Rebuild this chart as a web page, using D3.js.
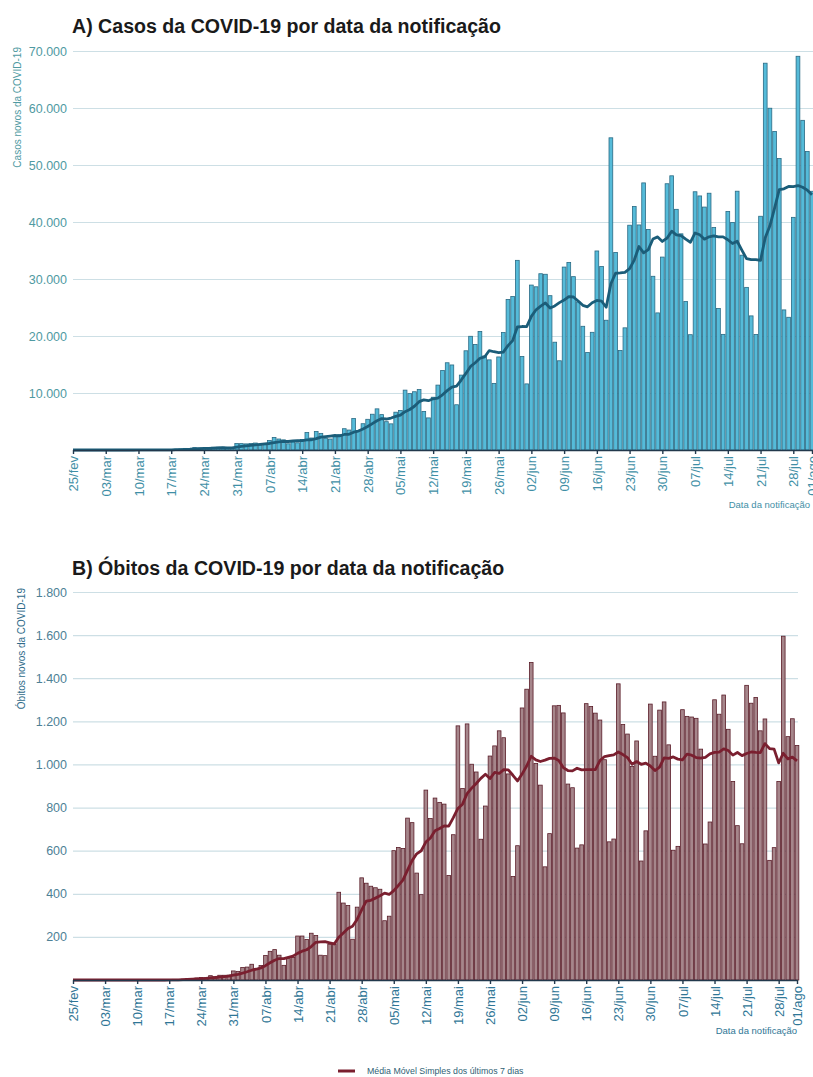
<!DOCTYPE html>
<html lang="pt-BR">
<head>
<meta charset="UTF-8">
<script src="https://d3js.org/d3.v7.min.js"></script>
<title>COVID-19 por data da notificação</title>
<style>
    body { margin: 0; background: #fff; }
    text { font-family: "Liberation Sans", Arial, sans-serif; }
</style>
</head>
<body>
<svg class="painel"></svg>
<script>
// primeiro dia da série (um valor por dia até 01/ago)
var inicio = "2020-02-25";

// casos novos por data da notificação (25/fev .. 01/ago)
var casos = [
    0, 1, 0, 0, 1,
    0, 0, 0, 1, 5, 5, 6, 6, 0, 9, 18, 25, 21, 23, 79, 34, 57, 137, 193, 283, 224, 418, 345, 310, 232, 482, 502, 487, 352, 323, 1138,
    1119, 1074, 1146, 1222, 852, 926, 1661, 2210, 1930, 1781, 1089, 1442, 1261, 1832, 3058, 2105, 3257, 2917, 2055, 1927, 2498, 2678, 3735, 3503, 5514, 3379, 4613, 5385, 6276, 7218,
    6209, 4970, 4588, 6633, 6935, 10503, 9888, 10222, 10611, 6760, 5632, 9258, 11385, 13944, 15305, 14919, 7938, 13140, 17408, 19951, 18508, 20803, 16508, 15813, 11687, 16324, 20599, 26417, 26928, 33274, 16409,
    11598, 28936, 28633, 30925, 30830, 27075, 18912, 15654, 32091, 32913, 30412, 25982, 21704, 17110, 20647, 34918, 32188, 22765, 54771, 34666, 17459, 21432, 39436, 42725, 39483, 46860, 38693, 30476, 24052, 33846,
    46712, 48105, 42223, 37923, 26051, 20229, 45305, 44571, 42619, 45048, 39023, 24831, 20286, 41857, 39924, 45403, 34177, 28532, 23529, 20257, 41008, 67860, 59961, 55891, 51147, 24578, 23284, 40816, 69074, 57837, 52383,
    45392
];

// óbitos novos por data da notificação (25/fev .. 01/ago)
var obitos = [
    0, 0, 0, 0, 0,
    0, 0, 0, 0, 0, 0, 0, 0, 0, 0, 0, 0, 0, 0, 0, 0, 1, 3, 3, 4, 7, 7, 9, 12, 11, 20, 15, 22, 22, 23, 42,
    40, 58, 60, 73, 54, 67, 114, 133, 141, 115, 68, 99, 105, 204, 204, 188, 217, 206, 115, 113, 166, 165, 407, 357, 346, 189, 338, 474, 449, 435,
    428, 421, 275, 296, 600, 615, 610, 751, 730, 496, 396, 881, 749, 844, 824, 816, 485, 674, 1179, 888, 1188, 1001, 965, 653, 807, 1039, 1086, 1156, 1124, 956, 480,
    623, 1262, 1349, 1473, 1005, 904, 525, 679, 1272, 1274, 1239, 909, 892, 612, 627, 1282, 1269, 1238, 1206, 1022, 641, 654, 1374, 1185, 1141, 990, 1109, 552, 692, 1280,
    1038, 1252, 1290, 1091, 602, 620, 1254, 1223, 1220, 1214, 1071, 631, 733, 1300, 1233, 1322, 1163, 921, 716, 632, 1367, 1284, 1311, 1156, 1211, 555, 614, 921, 1595, 1129, 1212,
    1088
];

var rotulosX = ["25/fev", "03/mar", "10/mar", "17/mar", "24/mar", "31/mar", "07/abr", "14/abr",
    "21/abr", "28/abr", "05/mai", "12/mai", "19/mai", "26/mai", "02/jun", "09/jun", "16/jun",
    "23/jun", "30/jun", "07/jul", "14/jul", "21/jul", "28/jul", "01/ago"];
var ticksCasos = [10000, 20000, 30000, 40000, 50000, 60000, 70000];
var ticksObitos = [200, 400, 600, 800, 1000, 1200, 1400, 1600, 1800];

var ptBR = d3.formatLocale({ decimal: ",", thousands: ".", grouping: [3], currency: ["R$", ""] });
var fmt = ptBR.format(",");
var meses = { fev: 1, mar: 2, abr: 3, mai: 4, jun: 5, jul: 6, ago: 7 };

function dataDe(rotulo) {
    var p = rotulo.split("/");
    return new Date(2020, meses[p[1]], +p[0]);
}

var dia0 = d3.timeParse("%Y-%m-%d")(inicio);

// série diária + média móvel simples dos últimos 7 dias
function serieDe(valores) {
    return valores.map(function(v, i) {
        var janela = valores.slice(Math.max(0, i - 6), i + 1);
        return { data: d3.timeDay.offset(dia0, i), valor: v, media: d3.mean(janela) };
    });
}

var svg = d3.select(".painel")
    .attr("width", 813)
    .attr("height", 1077);

function grafico(cfg) {
    var serie = serieDe(cfg.valores);
    var x = d3.scaleTime()
        .domain([dia0, dataDe(rotulosX[rotulosX.length - 1])])
        .range([cfg.x0, cfg.x1]);
    var y = d3.scaleLinear()
        .domain([0, cfg.max])
        .range([cfg.y0, cfg.yTopo]);
    var g = svg.append("g");

    g.append("text")
        .attr("x", 72)
        .attr("y", cfg.yTitulo)
        .attr("font-size", 19.6)
        .attr("font-weight", "bold")
        .attr("fill", "#1a1a1a")
        .text(cfg.titulo);

    // grade + rótulos do eixo y
    var eixoY = g.append("g")
        .attr("transform", "translate(" + cfg.x0 + ",0)")
        .call(d3.axisLeft(y).tickValues(cfg.ticks).tickFormat(fmt)
            .tickSize(-(cfg.xGrade - cfg.x0)).tickPadding(6));
    eixoY.select(".domain").remove();
    eixoY.selectAll("line").attr("stroke", "#cddfe5").attr("stroke-width", 1.2);
    eixoY.selectAll("text")
        .attr("font-size", 12.5)
        .attr("fill", cfg.corTexto)
        .style("font-family", "'Liberation Sans', Arial, sans-serif");

    g.append("text")
        .attr("transform", "translate(" + cfg.xTituloY + "," + (cfg.yTopo - 4) + ") rotate(-90)")
        .attr("text-anchor", "end")
        .attr("font-size", 10)
        .attr("fill", cfg.corTituloY)
        .text(cfg.tituloY);

    var passo = x(d3.timeDay.offset(dia0, 1)) - x(dia0);
    var bw = passo * 0.8;

    g.append("g").selectAll("rect")
        .data(serie)
        .join("rect")
        .attr("x", function(d) { return x(d.data) - bw / 2; })
        .attr("y", function(d) { return y(d.valor); })
        .attr("width", bw)
        .attr("height", function(d) { return y(0) - y(d.valor); })
        .attr("fill", cfg.corBarra)
        .attr("stroke", cfg.corBorda)
        .attr("stroke-width", 0.8);

    g.append("path")
        .datum(serie)
        .attr("fill", "none")
        .attr("stroke", cfg.corLinha)
        .attr("stroke-width", 2.8)
        .attr("stroke-linejoin", "round")
        .attr("d", d3.line()
            .x(function(d) { return x(d.data); })
            .y(function(d) { return y(d.media); }));

    var eixoX = g.append("g")
        .attr("transform", "translate(0," + cfg.y0 + ")")
        .call(d3.axisBottom(x)
            .tickValues(rotulosX.map(dataDe))
            .tickFormat(function(d, i) { return rotulosX[i]; })
            .tickSize(4).tickSizeOuter(0));
    eixoX.select(".domain").attr("stroke", "#22384c").attr("stroke-width", 1.6);
    eixoX.selectAll("line").attr("stroke", "#22384c").attr("stroke-width", 1.4);
    eixoX.selectAll("text")
        .attr("transform", "rotate(-90)")
        .attr("x", -6)
        .attr("y", 0)
        .attr("dy", "0.35em")
        .attr("font-size", 13)
        .attr("fill", cfg.corTextoX)
        .style("text-anchor", "end")
        .style("font-family", "'Liberation Sans', Arial, sans-serif");

    g.append("text")
        .attr("x", cfg.xTituloX)
        .attr("y", cfg.yTituloX)
        .attr("text-anchor", "end")
        .attr("font-size", 9.5)
        .attr("fill", cfg.corTextoX)
        .text("Data da notificação");
}

grafico({
    valores: casos, max: 70000, ticks: ticksCasos,
    x0: 73, x1: 812, xGrade: 813, y0: 450, yTopo: 51,
    titulo: "A) Casos da COVID-19 por data da notificação", yTitulo: 33,
    tituloY: "Casos novos da COVID-19", xTituloY: 21,
    xTituloX: 810, yTituloX: 508,
    corBarra: "#55bbd9", corBorda: "#2a6a84", corLinha: "#1b5d79",
    corTexto: "#4f9aa2", corTituloY: "#4f9aa2", corTextoX: "#3f8fa6"
});

grafico({
    valores: obitos, max: 1800, ticks: ticksObitos,
    x0: 73, x1: 797, xGrade: 798, y0: 980, yTopo: 592,
    titulo: "B) Óbitos da COVID-19 por data da notificação", yTitulo: 575,
    tituloY: "Óbitos novos da COVID-19", xTituloY: 25,
    xTituloX: 797, yTituloX: 1034,
    corBarra: "#a6868b", corBorda: "#5a1d29", corLinha: "#7a1f2f",
    corTexto: "#4e8196", corTituloY: "#2f6b8a", corTextoX: "#2f7696"
});

// legenda
var leg = svg.append("g").attr("transform", "translate(338,1071)");
leg.append("line")
    .attr("x1", 0).attr("x2", 17)
    .attr("stroke", "#7a1f2f").attr("stroke-width", 3);
leg.append("text")
    .attr("x", 29).attr("y", 3)
    .attr("font-size", 8.8)
    .attr("fill", "#2f5f75")
    .text("Média Móvel Simples dos últimos 7 dias");
</script>
</body>
</html>
